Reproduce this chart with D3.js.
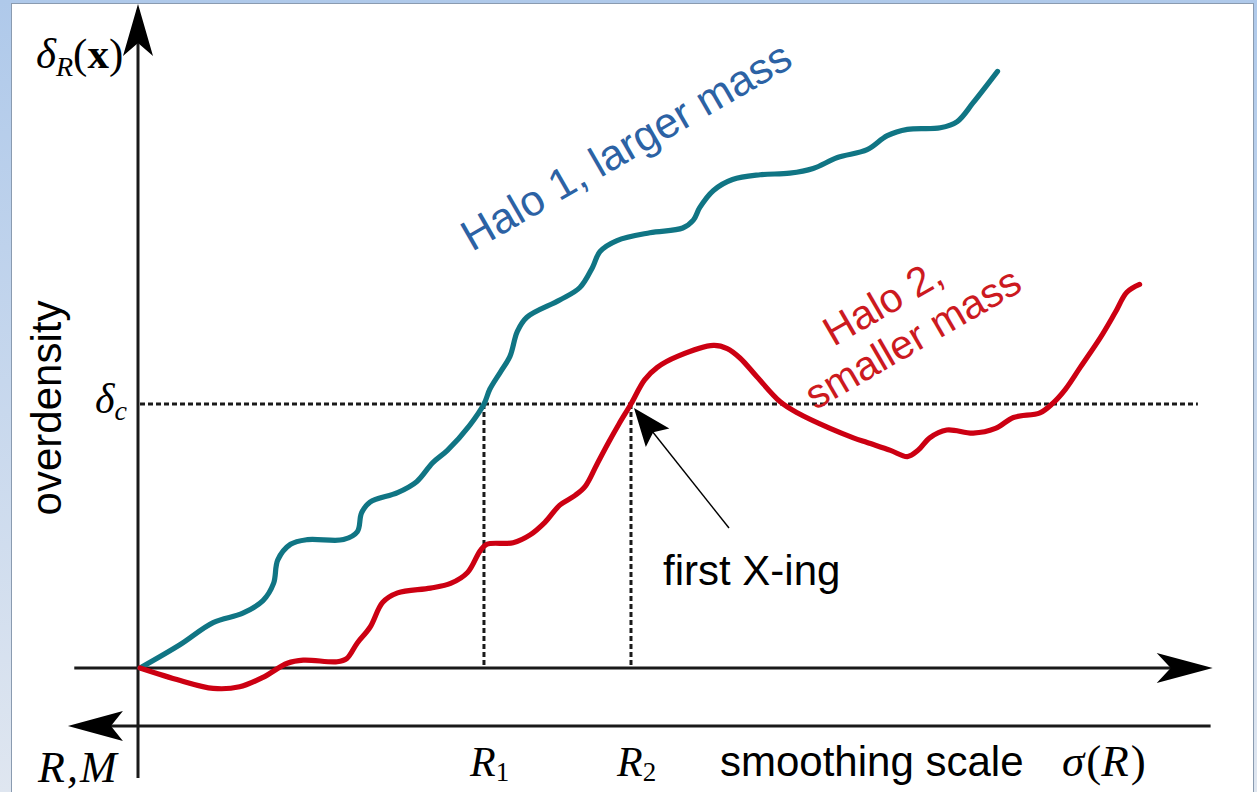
<!DOCTYPE html>
<html>
<head>
<meta charset="utf-8">
<script src="https://cdn.jsdelivr.net/npm/d3@7"></script>
<style>
  html, body { margin: 0; padding: 0; background: #fff; }
  svg { display: block; }
</style>
</head>
<body>
<svg id="chart" width="1257" height="792"></svg>
<script>
// Threshold overdensity for collapse and the two crossing scales
const deltaC = 1.686;
const crossings = [
  { name: "R", sub: "1", sigma: 3.245 },
  { name: "R", sub: "2", sigma: 4.632 }
];

// Random-walk trajectories δ_R(x) against σ(R)
const halo1Sigma = [0, 0.38, 0.69, 0.97, 1.16, 1.26, 1.30, 1.42, 1.58, 1.92, 2.05, 2.09, 2.17, 2.43, 2.61, 2.76, 2.90, 3.11, 3.245, 3.30, 3.40, 3.49, 3.56, 3.65, 3.96, 4.15, 4.27, 4.34, 4.50, 4.81, 5.12, 5.22, 5.28, 5.41, 5.59, 5.85, 6.13, 6.35, 6.58, 6.86, 7.05, 7.24, 7.55, 7.71, 7.86, 8.09];
const halo1Delta = [0, 0.15, 0.29, 0.35, 0.43, 0.54, 0.69, 0.79, 0.82, 0.82, 0.87, 0.99, 1.06, 1.12, 1.19, 1.31, 1.39, 1.55, 1.686, 1.78, 1.89, 1.99, 2.15, 2.24, 2.35, 2.43, 2.56, 2.66, 2.73, 2.78, 2.81, 2.86, 2.94, 3.05, 3.12, 3.15, 3.16, 3.19, 3.26, 3.31, 3.40, 3.44, 3.45, 3.49, 3.61, 3.81];

const halo2Sigma = [0, 0.38, 0.69, 0.94, 1.16, 1.39, 1.54, 1.86, 1.95, 2.05, 2.17, 2.29, 2.43, 2.74, 2.93, 3.09, 3.21, 3.27, 3.52, 3.68, 3.82, 3.96, 4.10, 4.20, 4.31, 4.42, 4.52, 4.632, 4.76, 4.88, 5.07, 5.41, 5.54, 5.66, 5.82, 6.04, 6.20, 6.51, 6.73, 6.86, 7.08, 7.24, 7.34, 7.45, 7.61, 7.86, 8.07, 8.24, 8.49, 8.61, 8.73, 8.87, 9.06, 9.20, 9.31, 9.43];
const halo2Delta = [0, -0.08, -0.13, -0.12, -0.06, 0.03, 0.05, 0.04, 0.06, 0.16, 0.26, 0.42, 0.48, 0.51, 0.54, 0.61, 0.75, 0.79, 0.80, 0.85, 0.93, 1.04, 1.10, 1.16, 1.30, 1.44, 1.56, 1.686, 1.84, 1.92, 1.99, 2.06, 2.04, 1.98, 1.86, 1.70, 1.63, 1.53, 1.47, 1.44, 1.39, 1.35, 1.39, 1.47, 1.52, 1.50, 1.53, 1.60, 1.63, 1.69, 1.78, 1.92, 2.11, 2.27, 2.40, 2.45];

const svg = d3.select("#chart");
const W = 1257, H = 792;

// Slide-style frame
const defs = svg.append("defs");
const grad = defs.append("linearGradient").attr("id", "sideGrad")
  .attr("x1", 0).attr("y1", 0).attr("x2", 0).attr("y2", 1);
grad.append("stop").attr("offset", "0%").attr("stop-color", "#afc9ea");
grad.append("stop").attr("offset", "100%").attr("stop-color", "#dfe6f0");
svg.append("rect").attr("x", 0).attr("y", 0).attr("width", W).attr("height", H).attr("fill", "url(#sideGrad)");
svg.append("rect").attr("x", 11.5).attr("y", 3.5).attr("width", 1242).attr("height", H)
  .attr("fill", "#ffffff").attr("stroke", "#8a9bb0").attr("stroke-width", 1);

// Scales
const x = d3.scaleLinear().domain([0, 10]).range([140, 1200]);
const y = d3.scaleLinear().domain([0, deltaC]).range([668, 404]);

const axisX = x(0) - 2;
const lowerY = y(0) + 58;
const axisColor = "#1a1a1a";

// Axis lines
svg.append("line").attr("x1", axisX).attr("x2", axisX)
  .attr("y1", y(4.2)).attr("y2", lowerY + 52)
  .attr("stroke", axisColor).attr("stroke-width", 3);
svg.append("line").attr("x1", x(-0.62)).attr("x2", x(9.8))
  .attr("y1", y(0)).attr("y2", y(0))
  .attr("stroke", axisColor).attr("stroke-width", 3);
svg.append("line").attr("x1", x(-0.55)).attr("x2", x(10.1))
  .attr("y1", lowerY).attr("y2", lowerY)
  .attr("stroke", axisColor).attr("stroke-width", 3);

// Arrowheads (stealth style)
function arrowHead(tx, ty, angle, len, half, notch) {
  const g = svg.append("g").attr("transform", `translate(${tx},${ty}) rotate(${angle})`);
  g.append("path")
    .attr("d", `M0,0 L${-len},${-half} L${-len + notch},0 L${-len},${half} Z`)
    .attr("fill", "#000");
}
arrowHead(x(10.12), y(0), 0, 56, 15, 14);          // +σ direction
arrowHead(axisX, 4, -90, 52, 15, 13);              // δ direction
arrowHead(x(-0.68), lowerY, 180, 55, 15, 12);      // R, M direction

// Threshold and crossing guides
svg.append("line").attr("x1", x(0)).attr("x2", x(9.98))
  .attr("y1", y(deltaC)).attr("y2", y(deltaC))
  .attr("stroke", "#1a1a1a").attr("stroke-width", 3).attr("stroke-dasharray", "5,3");
crossings.forEach(c => {
  svg.append("line").attr("x1", x(c.sigma)).attr("x2", x(c.sigma))
    .attr("y1", y(deltaC)).attr("y2", y(0))
    .attr("stroke", "#1a1a1a").attr("stroke-width", 3).attr("stroke-dasharray", "5,3");
});

// Trajectories
const line = d3.line()
  .x(d => x(d[0])).y(d => y(d[1]))
  .curve(d3.curveCatmullRom.alpha(0.5));

svg.append("path")
  .datum(d3.zip(halo1Sigma, halo1Delta))
  .attr("d", line).attr("fill", "none")
  .attr("stroke", "#107584").attr("stroke-width", 5.2).attr("stroke-linecap", "round")
  .attr("stroke-linejoin", "round");

svg.append("path")
  .datum(d3.zip(halo2Sigma, halo2Delta))
  .attr("d", line).attr("fill", "none")
  .attr("stroke", "#cc0012").attr("stroke-width", 5.2).attr("stroke-linecap", "round")
  .attr("stroke-linejoin", "round");

// Annotation arrow for the first up-crossing
const tipX = x(crossings[1].sigma) + 3, tipY = y(deltaC) + 4;
const tailDx = 95, tailDy = 120;
svg.append("line").attr("x1", tipX + tailDx).attr("x2", tipX + 18)
  .attr("y1", tipY + tailDy).attr("y2", tipY + 23)
  .attr("stroke", "#000").attr("stroke-width", 1.4);
(function () {
  const ang = Math.atan2(-tailDy, -tailDx) * 180 / Math.PI;
  const g = svg.append("g").attr("transform", `translate(${tipX},${tipY}) rotate(${ang})`);
  g.append("path").attr("d", "M0,0 L-38,-15 L-31,0 L-38,15 Z").attr("fill", "#000");
})();

// Text
const sans = "'Liberation Sans', Arial, sans-serif";
const serif = "'Liberation Serif', 'Times New Roman', serif";

svg.append("text").attr("transform", "translate(472,252) rotate(-30)")
  .attr("font-family", sans).attr("font-size", 43).attr("fill", "#2c62a4")
  .text("Halo 1, larger mass");

const h2 = svg.append("text").attr("transform", "translate(908,330) rotate(-30)")
  .attr("font-family", sans).attr("font-size", 41).attr("fill", "#cc1a1f")
  .attr("text-anchor", "middle");
h2.append("tspan").attr("x", -8).attr("dy", "-0.55em").text("Halo 2,");
h2.append("tspan").attr("x", 0).attr("dy", "1.12em").text("smaller mass");

svg.append("text").attr("x", 663).attr("y", 585)
  .attr("font-family", sans).attr("font-size", 42).attr("fill", "#000")
  .text("first X-ing");

svg.append("text").attr("transform", "translate(61,408) rotate(-90)")
  .attr("font-family", sans).attr("font-size", 42).attr("fill", "#000")
  .attr("text-anchor", "middle").text("overdensity");

svg.append("text").attr("x", 720).attr("y", 776)
  .attr("font-family", sans).attr("font-size", 42).attr("fill", "#000")
  .text("smoothing scale");

// Math labels
const m1 = svg.append("text").attr("x", 36).attr("y", 68)
  .attr("font-family", serif).attr("font-size", 43).attr("fill", "#000");
m1.append("tspan").attr("font-style", "italic").text("δ");
m1.append("tspan").attr("font-style", "italic").attr("font-size", 28).attr("dy", 8).text("R");
m1.append("tspan").attr("dy", -8).text("(");
m1.append("tspan").attr("font-weight", "bold").text("x");
m1.append("tspan").text(")");

const m2 = svg.append("text").attr("x", 95).attr("y", 413)
  .attr("font-family", serif).attr("font-size", 42).attr("fill", "#000");
m2.append("tspan").attr("font-style", "italic").text("δ");
m2.append("tspan").attr("font-style", "italic").attr("font-size", 28).attr("dy", 7).text("c");

svg.append("text").attr("x", 38).attr("y", 782)
  .attr("font-family", serif).attr("font-size", 44).attr("font-style", "italic").attr("fill", "#000")
  .attr("letter-spacing", 2).text("R,M");

crossings.forEach(c => {
  const t = svg.append("text").attr("x", x(c.sigma) - 14).attr("y", 776)
    .attr("font-family", serif).attr("font-size", 42).attr("fill", "#000");
  t.append("tspan").attr("font-style", "italic").text(c.name);
  t.append("tspan").attr("font-size", 27).attr("dy", 5).text(c.sub);
});

const s = svg.append("text").attr("x", 1062).attr("y", 776)
  .attr("font-family", serif).attr("font-size", 45).attr("fill", "#000");
s.append("tspan").attr("font-style", "italic").text("σ");
s.append("tspan").attr("dx", 2).text("(");
s.append("tspan").attr("font-style", "italic").text("R");
s.append("tspan").attr("dx", 2).text(")");
</script>
</body>
</html>
